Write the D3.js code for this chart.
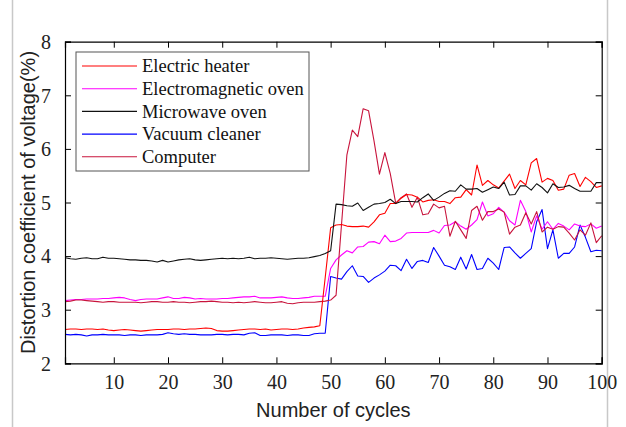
<html>
<head>
<style>
  body { margin: 0; background: #fff; }
  svg { display: block; }
</style>
</head>
<body>
<svg width="626" height="427"></svg>
<script src="https://d3js.org/d3.v7.min.js"></script>
<script>

// cycle numbers (x axis)
var cycles = d3.range(1, 101);

var seriesNames = ["Electric heater", "Electromagnetic oven", "Microwave oven", "Vacuum cleaner", "Computer"];
var seriesColors = ["#ff0000", "#ff00ff", "#111111", "#0000ff", "#c8143c"];

var heater = [2.63,2.64,2.64,2.63,2.64,2.64,2.63,2.64,2.62,2.61,2.62,2.63,2.62,2.61,2.60,2.61,2.62,2.63,2.63,2.63,
  2.64,2.64,2.63,2.64,2.64,2.65,2.66,2.65,2.61,2.60,2.60,2.61,2.62,2.63,2.64,2.64,2.63,2.64,2.62,2.63,
  2.64,2.64,2.63,2.64,2.66,2.67,2.68,2.70,
  3.60,4.53,4.58,4.59,4.56,4.55,4.55,4.56,4.54,4.64,4.77,4.80,
  4.98,4.98,5.08,5.15,5.14,5.10,5.01,5.04,5.05,5.02,
  5.02,4.98,5.09,5.10,5.24,5.14,5.70,5.32,5.41,5.33,
  5.27,5.40,5.53,5.26,5.41,5.33,5.74,5.82,5.38,5.45,
  5.41,5.23,5.25,5.51,5.54,5.30,5.47,5.39,5.28,5.31];

var inductionOven = [3.17,3.18,3.19,3.19,3.20,3.20,3.20,3.21,3.21,3.22,3.23,3.22,3.19,3.17,3.19,3.20,3.20,3.20,3.22,3.24,
  3.21,3.21,3.23,3.22,3.20,3.21,3.20,3.20,3.20,3.21,3.21,3.22,3.23,3.24,3.24,3.25,3.22,3.22,3.22,3.23,
  3.24,3.22,3.21,3.21,3.22,3.23,3.25,3.25,
  3.25,3.77,3.93,4.02,4.10,4.06,4.17,4.18,4.26,4.27,4.23,4.39,
  4.27,4.28,4.33,4.43,4.44,4.44,4.44,4.44,4.48,4.43,
  4.57,4.58,4.64,4.56,4.50,4.58,4.68,5.01,4.75,4.79,
  4.91,4.82,4.66,4.58,5.04,4.83,4.45,4.75,4.50,4.64,
  4.50,4.61,4.56,4.49,4.60,4.56,4.55,4.60,4.52,4.56];

var microwave = [3.97,3.95,3.94,3.96,3.97,3.95,3.95,3.98,3.96,3.96,3.95,3.94,3.93,3.93,3.92,3.92,3.91,3.89,3.92,3.89,
  3.91,3.93,3.94,3.95,3.93,3.92,3.93,3.94,3.95,3.96,3.95,3.96,3.95,3.96,3.98,3.95,3.96,3.96,3.97,3.96,
  3.95,3.94,3.95,3.96,3.96,3.97,3.99,4.01,
  4.05,4.10,4.97,4.96,4.94,4.93,4.99,4.85,4.91,4.97,4.98,5.00,
  5.06,4.98,5.02,5.02,5.02,5.01,5.09,5.16,5.04,5.10,
  5.17,5.22,5.21,5.33,5.25,5.25,5.26,5.19,5.24,5.29,
  5.26,5.38,5.14,5.15,5.31,5.31,5.23,5.35,5.28,5.18,
  5.35,5.28,5.29,5.32,5.26,5.21,5.21,5.21,5.37,5.37];

var vacuum = [2.54,2.53,2.54,2.53,2.51,2.53,2.53,2.54,2.53,2.53,2.53,2.52,2.53,2.53,2.52,2.53,2.53,2.53,2.54,2.57,
  2.55,2.54,2.55,2.54,2.54,2.53,2.53,2.53,2.54,2.54,2.53,2.54,2.54,2.53,2.56,2.57,2.52,2.52,2.53,2.53,
  2.53,2.52,2.53,2.53,2.52,2.52,2.55,2.56,
  2.56,3.62,3.59,3.57,3.71,3.82,3.63,3.62,3.51,3.59,3.65,3.72,
  3.83,3.82,3.73,3.94,3.77,3.90,3.92,3.88,4.16,4.00,
  3.83,3.80,3.75,3.98,3.76,4.03,3.75,3.77,3.96,3.87,
  3.75,4.16,4.17,4.06,3.96,4.05,4.14,4.64,4.87,4.14,
  4.49,3.96,4.05,4.05,4.17,4.58,4.35,4.08,4.11,4.10];

var computer = [3.15,3.16,3.18,3.18,3.17,3.16,3.15,3.14,3.15,3.15,3.14,3.14,3.14,3.14,3.13,3.14,3.15,3.15,3.14,3.14,
  3.15,3.14,3.14,3.13,3.14,3.15,3.15,3.16,3.15,3.14,3.14,3.13,3.14,3.13,3.14,3.15,3.14,3.13,3.13,3.14,
  3.15,3.12,3.11,3.13,3.14,3.14,3.14,3.15,
  3.16,3.18,3.27,4.58,5.89,6.35,6.23,6.75,6.71,6.15,5.53,5.93,
  5.54,4.99,5.09,5.16,4.91,5.10,4.77,4.79,4.97,4.90,
  4.93,4.37,4.65,4.49,4.33,4.85,4.93,4.67,4.83,4.83,
  4.88,4.82,4.41,4.54,4.58,4.81,4.60,4.83,4.45,4.54,
  4.50,4.55,4.54,4.43,4.30,4.49,4.39,4.62,4.25,4.38];

var xTicks = [10, 20, 30, 40, 50, 60, 70, 80, 90, 100];
var yTicks = [2, 3, 4, 5, 6, 7, 8];

(function() {
var svg = d3.select("svg"),
    width = +svg.attr("width"),
    height = +svg.attr("height");

var margin = {top: 41.7, right: 24.3, bottom: 63.7, left: 65};
var x = d3.scaleLinear().domain([1, 100]).range([margin.left, width - margin.right]);
var y = d3.scaleLinear().domain([2, 8]).range([height - margin.bottom, margin.top]);

// screenshot borders
svg.append("line").attr("x1", 12.5).attr("x2", 12.5).attr("y1", 0).attr("y2", height)
  .attr("stroke", "#c8c8c8").attr("stroke-width", 1.5);
svg.append("line").attr("x1", 607.5).attr("x2", 607.5).attr("y1", 0).attr("y2", height)
  .attr("stroke", "#c8c8c8").attr("stroke-width", 1.5);

var allSeries = [heater, inductionOven, microwave, vacuum, computer];

var line = d3.line()
  .x(function(d, i) { return x(cycles[i]); })
  .y(function(d) { return y(d); });

var plot = svg.append("g");
// draw order so the black and red sit on top like the original
[3, 1, 4, 0, 2].forEach(function(k) {
  plot.append("path")
    .datum(allSeries[k])
    .attr("fill", "none")
    .attr("stroke", seriesColors[k])
    .attr("stroke-width", 1.1)
    .attr("stroke-linejoin", "round")
    .attr("d", line);
});

// axes (ticks inward, box on)
var tickLen = 6;
var axBottom = svg.append("g").attr("transform", "translate(0," + (height - margin.bottom) + ")")
  .call(d3.axisBottom(x).tickValues(xTicks).tickSize(-tickLen).tickPadding(12));
var axTop = svg.append("g").attr("transform", "translate(0," + margin.top + ")")
  .call(d3.axisTop(x).tickValues(xTicks).tickSize(-tickLen).tickFormat(""));
var axLeft = svg.append("g").attr("transform", "translate(" + margin.left + ",0)")
  .call(d3.axisLeft(y).tickValues(yTicks).tickSize(-tickLen).tickPadding(14).tickFormat(d3.format("d")));
var axRight = svg.append("g").attr("transform", "translate(" + (width - margin.right) + ",0)")
  .call(d3.axisRight(y).tickValues(yTicks).tickSize(-tickLen).tickFormat(""));

[axBottom, axTop, axLeft, axRight].forEach(function(a) {
  a.select(".domain").attr("stroke", "#000").attr("stroke-width", 1.2);
  a.selectAll(".tick line").attr("stroke", "#000").attr("stroke-width", 1);
  a.selectAll("text")
    .attr("font-family", "'Liberation Serif', 'Times New Roman', serif")
    .attr("font-size", 20)
    .attr("fill", "#222");
});
axBottom.selectAll("text").attr("dy", "0.71em");
axLeft.selectAll("text").attr("dy", "0.34em");

// axis labels
svg.append("text")
  .attr("x", (margin.left + width - margin.right) / 2)
  .attr("y", 417)
  .attr("text-anchor", "middle")
  .attr("font-family", "'Liberation Sans', Arial, sans-serif")
  .attr("font-size", 20)
  .attr("fill", "#222")
  .text("Number of cycles");

svg.append("text")
  .attr("transform", "translate(35," + ((margin.top + height - margin.bottom) / 2) + ") rotate(-90)")
  .attr("text-anchor", "middle")
  .attr("font-family", "'Liberation Sans', Arial, sans-serif")
  .attr("font-size", 20)
  .attr("fill", "#222")
  .text("Distortion coefficient of voltage(%)");

// legend
var legend = svg.append("g").attr("transform", "translate(76,52)");
legend.append("rect")
  .attr("width", 233).attr("height", 119)
  .attr("fill", "#fff").attr("stroke", "#555").attr("stroke-width", 1);

seriesNames.forEach(function(name, i) {
  var row = legend.append("g").attr("transform", "translate(0," + (14 + i * 22.7) + ")");
  row.append("line")
    .attr("x1", 6).attr("x2", 61)
    .attr("stroke", seriesColors[i]).attr("stroke-width", 1.1);
  row.append("text")
    .attr("x", 66)
    .attr("dy", "0.33em")
    .attr("font-family", "'Liberation Serif', 'Times New Roman', serif")
    .attr("font-size", 18.5)
    .attr("fill", "#111")
    .text(name);
});
})();

</script>
</body>
</html>
